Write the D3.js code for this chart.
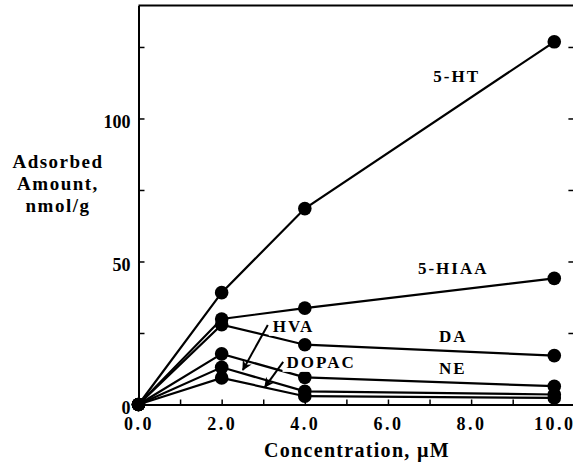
<!DOCTYPE html>
<html>
<head>
<meta charset="utf-8">
<script src="https://cdn.jsdelivr.net/npm/d3@7"></script>
<style>
  html, body { margin: 0; padding: 0; background: #fff; }
  svg { display: block; }
  text { font-family: "Liberation Serif", "Times New Roman", serif; font-weight: bold; fill: #000; }
</style>
</head>
<body>
<svg id="chart" width="573" height="465"></svg>
<script>
// Concentrations (µM) at which adsorption was measured
const concentrations = [0, 2, 4, 10];

// Adsorbed amount (nmol/g) for each compound
const seriesNames = ["5-HT", "5-HIAA", "DA", "NE", "HVA", "DOPAC"];
const ht5   = [0, 39.1, 68.5, 126.8];
const hiaa5 = [0, 29.9, 33.7, 44.1];
const da    = [0, 27.9, 20.9, 17.1];
const ne    = [0, 17.7, 9.5, 6.4];
const hva   = [0, 13.0, 4.6, 3.5];
const dopac = [0, 9.3, 2.9, 2.3];
const seriesValues = [ht5, hiaa5, da, ne, hva, dopac];

// Axis ticks
const xTicks = [0, 1, 2, 3, 4, 5, 6, 7, 8, 9, 10];
const xTickLabels = ["0.0", "", "2.0", "", "4.0", "", "6.0", "", "8.0", "", "10.0"];
const yTicks = [0, 25, 50, 75, 100, 125];
const yTickLabels = ["0", "", "50", "", "100", ""];

// Curve labels (text, x and y in data units for the start of the baseline)
const labelText = ["5-HT", "5-HIAA", "DA", "NE", "HVA", "DOPAC"];
const labelX = [7.09, 6.72, 7.23, 7.23, 3.23, 3.56];
const labelY = [112.9, 45.7, 21.9, 10.7, 25.4, 12.8];
const labelBoxed = [false, false, false, false, true, true];

// Pointer arrows for the two crowded curves: from (x1,y1) to tip (x2,y2)
const arrowFrom = [[3.11, 27.8], [3.48, 14.9]];
const arrowTo = [[2.51, 12.1], [3.04, 6.1]];

const svg = d3.select("#chart");

const x = d3.scaleLinear().domain([0, 10.46]).range([138.5, 573.4]);
const y = d3.scaleLinear().domain([0, 139.5]).range([404.5, 5.5]);

// Frame: top border and right-hand ticks
svg.append("line")
  .attr("x1", x(0)).attr("x2", x(10.46))
  .attr("y1", y(139.5)).attr("y2", y(139.5))
  .attr("stroke", "#000").attr("stroke-width", 2);

const rightAxis = svg.append("g")
  .attr("transform", `translate(${x(10.46)},0)`)
  .call(d3.axisRight(y).tickValues(yTicks).tickSize(-5).tickFormat(""));
rightAxis.select(".domain").remove();
rightAxis.selectAll("line").attr("stroke-width", 1.5);

// Bottom axis
const xAxis = svg.append("g")
  .attr("transform", `translate(0,${y(0)})`)
  .call(d3.axisBottom(x).tickValues(xTicks).tickSizeInner(-5).tickSizeOuter(0)
    .tickFormat((d, i) => xTickLabels[i]));
xAxis.select(".domain").attr("stroke-width", 2);
xAxis.selectAll("line").attr("stroke-width", 1.5);
xAxis.selectAll("text")
  .attr("dy", null).attr("y", 25.5)
  .style("font-size", "18px").style("letter-spacing", "2.5px")
  .style("font-family", "Liberation Serif, serif").style("font-weight", "bold");

// Left axis
const yAxis = svg.append("g")
  .attr("transform", `translate(${x(0)},0)`)
  .call(d3.axisLeft(y).tickValues(yTicks).tickSizeInner(-6).tickSizeOuter(0)
    .tickPadding(8).tickFormat((d, i) => yTickLabels[i]));
yAxis.select(".domain").attr("stroke-width", 2);
yAxis.selectAll("line").attr("stroke-width", 1.5);
yAxis.selectAll("text")
  .attr("dy", "0.5em")
  .style("font-size", "18px")
  .style("font-family", "Liberation Serif, serif").style("font-weight", "bold");

// Axis titles
const yTitle = svg.append("text")
  .attr("text-anchor", "middle")
  .style("font-size", "19px").style("letter-spacing", "1.5px");
[["Adsorbed", 168], ["Amount,", 190], ["nmol/g", 212]].forEach(([t, by]) => {
  yTitle.append("tspan").attr("x", 58).attr("y", by).text(t);
});

svg.append("text")
  .attr("x", 357).attr("y", 457)
  .attr("text-anchor", "middle")
  .style("font-size", "20px").style("letter-spacing", "1.3px")
  .text("Concentration,  \u00b5M");

// Curves
const line = d3.line()
  .x((d, i) => x(concentrations[i]))
  .y(d => y(d));

svg.append("g").selectAll("path")
  .data(seriesValues)
  .join("path")
  .attr("d", line)
  .attr("fill", "none")
  .attr("stroke", "#000")
  .attr("stroke-width", 2.2);

// Markers
svg.append("g").selectAll("g")
  .data(seriesValues)
  .join("g")
  .selectAll("circle")
  .data(d => d)
  .join("circle")
  .attr("cx", (d, i) => x(concentrations[i]))
  .attr("cy", d => y(d))
  .attr("r", 6.8)
  .attr("fill", "#000");

// Curve labels
const labels = svg.append("g");
labelText.forEach((t, i) => {
  const g = labels.append("g");
  const txt = g.append("text")
    .attr("x", x(labelX[i])).attr("y", y(labelY[i]))
    .style("font-size", "17px").style("letter-spacing", "2px")
    .text(t);
  if (labelBoxed[i]) {
    const bb = txt.node().getBBox();
    g.insert("rect", "text")
      .attr("x", bb.x - 4).attr("y", bb.y - 1)
      .attr("width", bb.width + 4).attr("height", bb.height + 1)
      .attr("fill", "#fff");
  }
});

// Arrows
svg.append("defs").append("marker")
  .attr("id", "arrowhead")
  .attr("viewBox", "0 0 10 10")
  .attr("refX", 9).attr("refY", 5)
  .attr("markerWidth", 11).attr("markerHeight", 10)
  .attr("markerUnits", "userSpaceOnUse")
  .attr("orient", "auto")
  .append("path")
  .attr("d", "M0,0 L10,5 L0,10 L3,5 Z")
  .attr("fill", "#000");

svg.append("g").selectAll("line")
  .data(arrowFrom)
  .join("line")
  .attr("x1", d => x(d[0])).attr("y1", d => y(d[1]))
  .attr("x2", (d, i) => x(arrowTo[i][0])).attr("y2", (d, i) => y(arrowTo[i][1]))
  .attr("stroke", "#000").attr("stroke-width", 2)
  .attr("marker-end", "url(#arrowhead)");
</script>
</body>
</html>
